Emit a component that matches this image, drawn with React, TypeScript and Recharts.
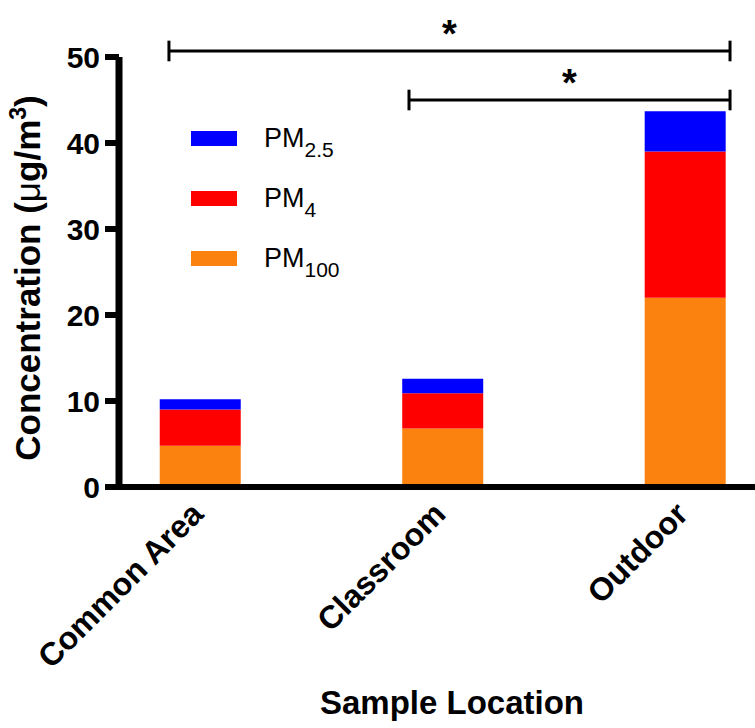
import React from 'react';
import { BarChart, Bar, XAxis, YAxis, ReferenceLine, Legend, Label } from 'recharts';

const categories = ['Common Area', 'Classroom', 'Outdoor'];
const pm100 = [4.8, 6.8, 22.0];
const pm4 = [4.2, 4.1, 17.0];
const pm25 = [1.2, 1.7, 4.7];
const yTicks = [0, 10, 20, 30, 40, 50];
const xTicks = [0, 1, 2];

const seriesKeys = ['pm100', 'pm4', 'pm25'];
const seriesColors = ['#fc8210', '#ff0000', '#0000ff'];
const seriesSubs = ['100', '4', '2.5'];

// significance brackets (x in category-index units, y in concentration units)
const brackets = [
  { x1: -0.128, x2: 2.186, y: 50.7, label: '*' },
  { x1: 0.862, x2: 2.186, y: 45.0, label: '*' },
];
const bracketTick = 1.2;

const data = categories.map((c, i) => ({
  pos: i,
  name: c,
  pm100: pm100[i],
  pm4: pm4[i],
  pm25: pm25[i],
}));

const FONT = '"Liberation Sans", Arial, Helvetica, sans-serif';

const XTick = (props: any) => {
  const { x, y, payload } = props;
  const ax = x + 5;
  const ay = y + 29;
  return (
    <text
      x={ax}
      y={ay}
      transform={`rotate(-45, ${ax}, ${ay})`}
      textAnchor="end"
      fontFamily={FONT}
      fontWeight="bold"
      fontSize={32}
      fill="#000"
    >
      {categories[payload.value]}
    </text>
  );
};

const renderLegend = () => {
  const order = [2, 1, 0];
  return (
    <svg width={200} height={180} style={{ display: 'block' }}>
      {order.map((si, row) => (
        <g key={seriesKeys[si]}>
          <rect x={6} y={16 + row * 60} width={46} height={15} fill={seriesColors[si]} />
          <text x={79} y={32 + row * 60} fontFamily={FONT} fontSize={27} fill="#000">
            PM
            <tspan fontSize={21} dy={10}>
              {seriesSubs[si]}
            </tspan>
          </text>
        </g>
      ))}
    </svg>
  );
};

const YLabel = () => {
  const cx = 40;
  const cy = 278;
  return (
    <text
      x={cx}
      y={cy}
      transform={`rotate(-90, ${cx}, ${cy})`}
      textAnchor="middle"
      fontFamily={FONT}
      fontWeight="bold"
      fontSize={35}
      fill="#000"
    >
      Concentration (
      <tspan fontWeight="normal">μ</tspan>
      g/m
      <tspan fontSize={23} dy={-14}>
        3
      </tspan>
      <tspan dy={14}>)</tspan>
    </text>
  );
};

export default function App() {
  return (
    <div style={{ position: 'absolute', left: 0, top: 0, background: '#fff' }}>
      <BarChart
        width={755}
        height={728}
        data={data}
        margin={{ top: 57, right: 0, bottom: 0, left: 0 }}
      >
        <XAxis
          type="number"
          dataKey="pos"
          domain={[-0.334, 2.289]}
          ticks={xTicks}
          allowDataOverflow
          height={241}
          tickLine={false}
          tickSize={0}
          tickMargin={0}
          interval={0}
          axisLine={{ stroke: '#000', strokeWidth: 6 }}
          tick={<XTick />}
        >
          <Label
            value="Sample Location"
            position="insideBottom"
            offset={14}
            dx={15}
            fontFamily={FONT}
            fontWeight="bold"
            fontSize={33}
            fill="#000"
          />
        </XAxis>
        <YAxis
          type="number"
          domain={[0, 50]}
          ticks={yTicks}
          width={119}
          tickSize={14}
          tickMargin={5}
          axisLine={{ stroke: '#000', strokeWidth: 7 }}
          tickLine={{ stroke: '#000', strokeWidth: 6 }}
          tick={{ fill: '#000', fontSize: 30, fontWeight: 'bold', fontFamily: FONT }}
        >
          <Label content={<YLabel />} />
        </YAxis>
        <Legend
          content={renderLegend}
          layout="vertical"
          align="center"
          verticalAlign="middle"
          wrapperStyle={{ position: 'absolute', left: 185, top: 115, width: 200, height: 180 }}
        />
        {seriesKeys.map((k, i) => (
          <Bar
            key={k}
            dataKey={k}
            stackId="a"
            fill={seriesColors[i]}
            barSize={81}
            isAnimationActive={false}
          />
        ))}
        {brackets.map((b, i) => (
          <ReferenceLine
            key={`h${i}`}
            segment={[
              { x: b.x1, y: b.y },
              { x: b.x2, y: b.y },
            ]}
            stroke="#000"
            strokeWidth={3}
            ifOverflow="visible"
            label={{
              value: b.label,
              position: 'top',
              offset: 4,
              fontSize: 38,
              fontWeight: 'bold',
              fill: '#000',
              fontFamily: FONT,
            }}
          />
        ))}
        {brackets.map((b, i) => (
          <ReferenceLine
            key={`l${i}`}
            segment={[
              { x: b.x1, y: b.y - bracketTick },
              { x: b.x1, y: b.y + bracketTick },
            ]}
            stroke="#000"
            strokeWidth={3}
            ifOverflow="visible"
          />
        ))}
        {brackets.map((b, i) => (
          <ReferenceLine
            key={`r${i}`}
            segment={[
              { x: b.x2, y: b.y - bracketTick },
              { x: b.x2, y: b.y + bracketTick },
            ]}
            stroke="#000"
            strokeWidth={3}
            ifOverflow="visible"
          />
        ))}
      </BarChart>
    </div>
  );
}
